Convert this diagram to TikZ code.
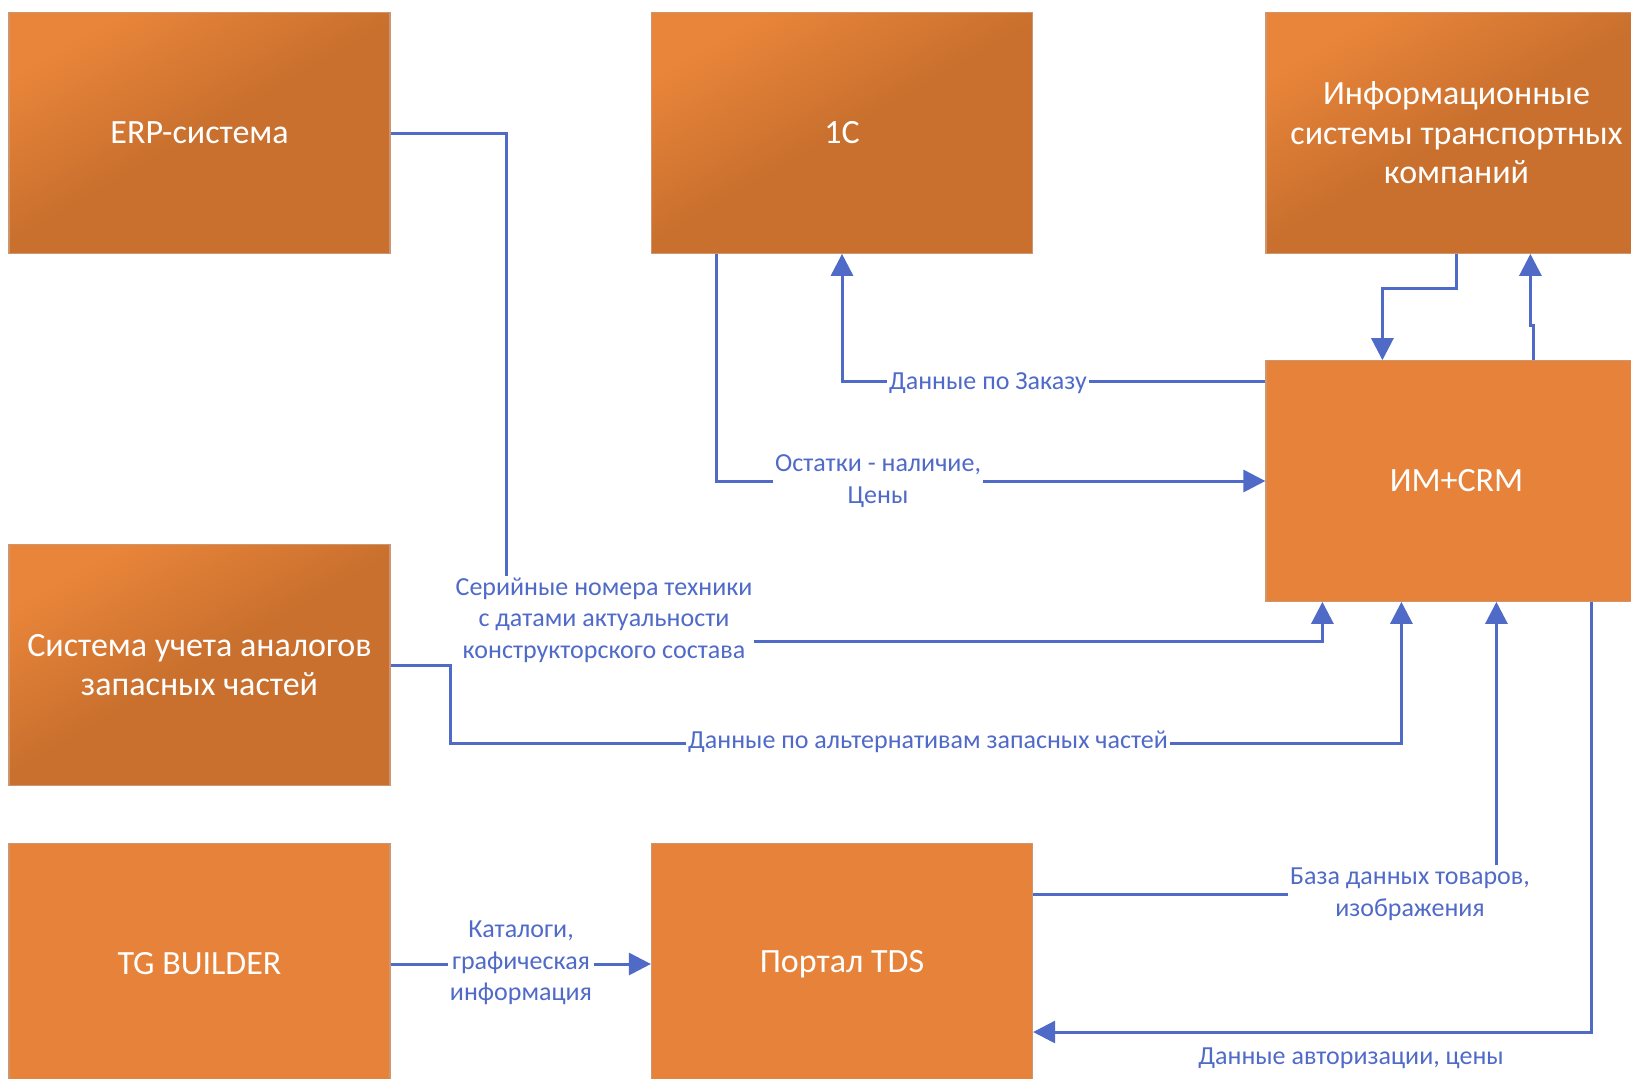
\documentclass[tikz,border=0pt]{standalone}
\usepackage{fontspec}
\setmainfont{Carlito}
\usetikzlibrary{arrows.meta,calc}

\definecolor{orLight}{RGB}{233,133,58}
\definecolor{orDark}{RGB}{201,112,46}
\definecolor{orFlat}{RGB}{230,130,57}
\definecolor{orEdge}{RGB}{205,150,110}
\definecolor{flowBlue}{RGB}{80,106,200}

\tikzset{
	sysbox/.style={rectangle, minimum width=190.5pt, minimum height=120.25pt, inner sep=0pt,
		draw=orEdge, line width=0.6pt, text=white, align=center,
		font=\fontsize{17}{19.75}\selectfont},
	shadedbox/.style={sysbox, top color=orLight, bottom color=orDark, middle color=orDark, shading angle=30},
	flatbox/.style={sysbox, fill=orFlat},
	line/.style={draw=flowBlue, line width=1.5pt},
	flow/.style={line, -{Triangle[length=11pt,width=11pt]}},
	flowlabel/.style={text=flowBlue, align=center, inner sep=1pt,
		font=\fontsize{13}{15.75}\selectfont},
	onpath/.style={flowlabel, fill=white}
}

\begin{document}
\begin{tikzpicture}[x=0.5pt,y=-0.5pt]
	\useasboundingbox (0,0) rectangle (1631,1078);
	\clip (0,0) rectangle (1631,1078);

	\node[shadedbox] (erp) at (199.5,133) {ERP-система};
	\node[shadedbox] (onec) at (842,133) {1С};
	\node[shadedbox] (tk) at (1456.5,133) {Информационные\\системы транспортных\\компаний};
	\node[flatbox] (crm) at (1456.5,481) {ИМ+CRM};
	\node[shadedbox] (analog) at (199.5,665) {Система учета аналогов\\запасных частей};
	\node[flatbox] (tg) at (199.5,964) {TG BUILDER};
	\node[flatbox] (tds) at (842,964) {Портал TDS};

	\node[flowlabel] (db) at (1410,894) {База данных товаров,\\изображения};
	\node[flowlabel] (auth) at (1351,1058) {Данные авторизации, цены};

	\path [flow] (erp.east) -- ++(115.5,0) |- ($(crm.south west)+(57,40)$) -- ($(crm.south west)+(57,0)$);
	\path [flow] ($(onec.south west)+(66,0)$) |- (crm.west);
	\path [flow] ($(crm.north west)+(0,21)$) -| (onec.south);
	\path [flow] (analog.east) -- ++(60,0) |- ($(crm.south west)+(136,142)$) -- ($(crm.south west)+(136,0)$);
	\path [flow] (tk.south) -- ++(0,35) -| ($(crm.north west)+(117,0)$);
	\path [flow] ($(crm.north west)+(268,0)$) -- ++(0,-35) -- ++(-3,0) -- ($(tk.south west)+(265,0)$);
	\path [line] (tds.east |- db.west) -- (db.west);
	\path [flow] (db.north -| {$(crm.south west)+(231,0)$}) -- ($(crm.south west)+(231,0)$);
	\path [flow] ($(crm.south west)+(326,0)$) |- ($(tds.east)+(0,68)$);
	\path [flow] (tg.east) -- (tds.west);

	\node[onpath] (serial) at (604,620) {Серийные номера техники\\с датами актуальности\\конструкторского состава};
	\node[onpath] (stock) at (878,481) {Остатки - наличие,\\Цены};
	\node[onpath] (order) at (988,383) {Данные по Заказу};
	\node[onpath] (alt) at (928,742) {Данные по альтернативам запасных частей};
	\node[onpath] (cat) at (521,963) {Каталоги,\\графическая\\информация};
\end{tikzpicture}
\end{document}
